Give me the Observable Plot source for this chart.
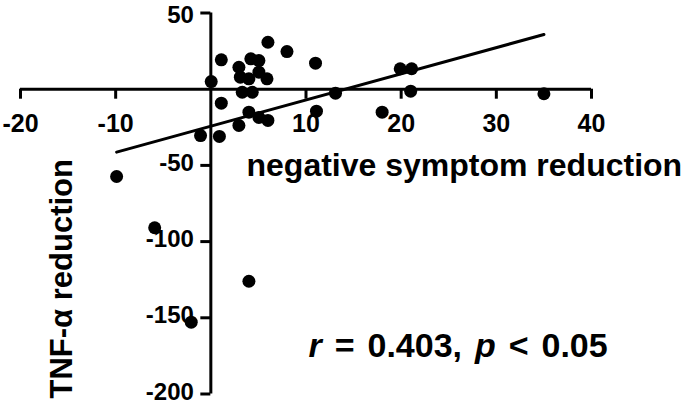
<!DOCTYPE html>
<html>
<head>
<meta charset="utf-8">
<script src="https://cdn.jsdelivr.net/npm/d3@7"></script>
<script src="https://cdn.jsdelivr.net/npm/@observablehq/plot@0.6"></script>
<style>
  html, body { margin: 0; padding: 0; background: #fff; }
  #chart svg { display: block; font-family: "Liberation Sans", Arial, sans-serif; }
</style>
</head>
<body>
<div id="chart"></div>
<script>
// Data
const symptomReduction = [0.04, 1.1, 6.0, 8.0, 11.0, 2.95, 4.2, 5.05, 5.05, 4.0, 3.1, 5.9, 3.3, 4.35, 1.1, 4.0,
  2.95, 5.05, 6.0, 11.1, -1.08, 0.9, 13.1, 19.9, 21.1, 21.0, 18.0, 35.0, -9.9, -5.9, 4.0, -2.06];
const tnfReduction = [5.0, 19.3, 30.8, 24.7, 17.1, 14.4, 19.9, 18.8, 11.2, 6.8, 7.9, 6.8, -2.0, -2.0, -9.2, -15.1,
  -23.8, -18.5, -20.5, -14.4, -30.4, -31.0, -2.6, 13.4, 13.4, -1.3, -15.1, -3.0, -57.3, -90.9, -126, -152.9];

// Fitted regression line (end points)
const fitX = [-9.9, 35.0];
const fitY = [-41.3, 35.9];

// Axis ticks
const xTicks = [-20, -10, 10, 20, 30, 40];
const yTicks = [50, -50, -100, -150, -200];
const xDomain = [-20, 40];
const yDomain = [-200, 50];

// Texts
const xTitle = "negative symptom reduction";
const yTitle = "TNF-α reduction";
const annParts = [
  {t: "r", italic: true},
  {t: " = 0.403, ", italic: false},
  {t: "p", italic: true},
  {t: " < 0.05", italic: false}
];

const points = symptomReduction.map((x, i) => ({x, y: tnfReduction[i]}));
const fit = fitX.map((x, i) => ({x, y: fitY[i]}));
const yTickStyle = {x: 0, y: d => d, dx: -17, text: d => String(d), textAnchor: "end", fontSize: 24, fontWeight: "bold", fill: "#000"};

const plot = Plot.plot({
  width: 685,
  height: 405,
  marginLeft: 20,
  marginRight: 94,
  marginTop: 12.5,
  marginBottom: 11.5,
  x: {domain: xDomain, axis: null},
  y: {domain: yDomain, axis: null},
  style: {background: "#fff", fontFamily: "Liberation Sans, Arial, sans-serif"},
  marks: [
    // axis lines crossing at the origin
    Plot.ruleY([0], {x1: xDomain[0], x2: xDomain[1], stroke: "#000", strokeWidth: 3}),
    Plot.ruleX([0], {y1: yDomain[0], y2: yDomain[1], stroke: "#000", strokeWidth: 3}),
    // tick marks
    Plot.ruleX(xTicks, {x: d => d, y1: 0, y2: 0, insetBottom: -10, stroke: "#000", strokeWidth: 3}),
    Plot.ruleY(yTicks, {y: d => d, x1: 0, x2: 0, insetLeft: -10, stroke: "#000", strokeWidth: 3}),
    // tick labels
    Plot.text(xTicks, {x: d => d, y: 0, dy: 35, text: d => String(d), fontSize: 25, fontWeight: "bold", fill: "#000"}),
    Plot.text(yTicks.filter(d => d > 0), {...yTickStyle, dy: 2}),
    Plot.text(yTicks.filter(d => d < 0), {...yTickStyle, dy: -2}),
    // regression line
    Plot.line(fit, {x: "x", y: "y", stroke: "#000", strokeWidth: 3}),
    // data points
    Plot.dot(points, {x: "x", y: "y", r: 6.5, fill: "#000", stroke: "none"}),
    // titles
    Plot.text([xTitle], {frameAnchor: "top-left", dx: 226, dy: 152.3, text: d => d, textAnchor: "start", lineAnchor: "middle", fontSize: 32, fontWeight: "bold", fill: "#000"}),
    Plot.text([yTitle], {frameAnchor: "top-left", dx: 41.7, dy: 265.8, text: d => d, rotate: -90, textAnchor: "middle", lineAnchor: "middle", fontSize: 31, fontWeight: "bold", fill: "#000"}),
    // annotation
    Plot.text([annParts.map(p => p.t).join("")], {frameAnchor: "top-left", dx: 288, dy: 333.3, text: d => d, textAnchor: "start", lineAnchor: "middle", fontSize: 34, fontWeight: "bold", fill: "#000"})
  ]
});

// Rebuild the annotation with italic r and p
const annText = annParts.map(p => p.t).join("");
d3.select(plot).selectAll("text").each(function() {
  if (this.textContent === annText) {
    const sel = d3.select(this);
    sel.text(null);
    sel.attr("xml:space", "preserve").style("white-space", "pre").style("word-spacing", "3.5px");
    annParts.forEach(p => {
      sel.append("tspan").text(p.t).attr("font-style", p.italic ? "italic" : "normal");
    });
  }
});

document.getElementById("chart").appendChild(plot);
</script>
</body>
</html>
